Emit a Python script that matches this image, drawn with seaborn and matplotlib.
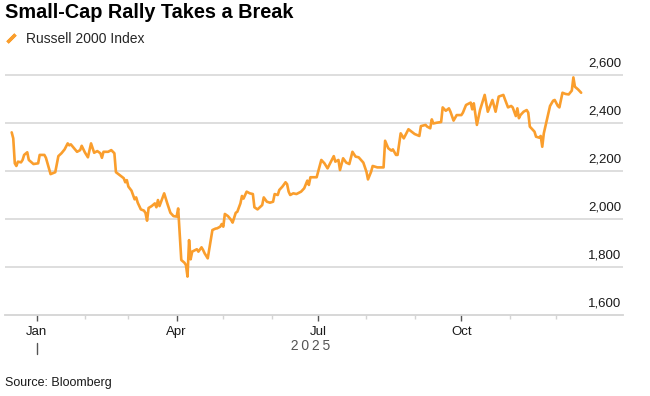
import matplotlib
matplotlib.use("Agg")
import matplotlib.pyplot as plt
import matplotlib.dates as mdates
from matplotlib.lines import Line2D
import pandas as pd
import seaborn as sns

# Russell 2000 daily closes (approximate)
dates = [
    "2024-12-16", "2024-12-17", "2024-12-18", "2024-12-19", "2024-12-20", "2024-12-22",
    "2024-12-23", "2024-12-24", "2024-12-26", "2024-12-27", "2024-12-30",
    "2025-01-02", "2025-01-03", "2025-01-06", "2025-01-07", "2025-01-08", "2025-01-10",
    "2025-01-13", "2025-01-15", "2025-01-17", "2025-01-19", "2025-01-21", "2025-01-22",
    "2025-01-23", "2025-01-27", "2025-01-29", "2025-01-30",
    "2025-02-01", "2025-02-03", "2025-02-05", "2025-02-07", "2025-02-09", "2025-02-11",
    "2025-02-12", "2025-02-13", "2025-02-16", "2025-02-18", "2025-02-20", "2025-02-21",
    "2025-02-24", "2025-02-26", "2025-02-27", "2025-02-28",
    "2025-03-01", "2025-03-03", "2025-03-05", "2025-03-06", "2025-03-07", "2025-03-09",
    "2025-03-11", "2025-03-12", "2025-03-13", "2025-03-14", "2025-03-16", "2025-03-18",
    "2025-03-19", "2025-03-20", "2025-03-21", "2025-03-24", "2025-03-26", "2025-03-28",
    "2025-03-30",
    "2025-04-01", "2025-04-02", "2025-04-04", "2025-04-06", "2025-04-07", "2025-04-08",
    "2025-04-09", "2025-04-10", "2025-04-11", "2025-04-14", "2025-04-15", "2025-04-17",
    "2025-04-18", "2025-04-19", "2025-04-21", "2025-04-24", "2025-04-26", "2025-04-27",
    "2025-04-29", "2025-04-30",
    "2025-05-01", "2025-05-02", "2025-05-04", "2025-05-06", "2025-05-07", "2025-05-09",
    "2025-05-10", "2025-05-12", "2025-05-13", "2025-05-14", "2025-05-16", "2025-05-18",
    "2025-05-20", "2025-05-21", "2025-05-23", "2025-05-26", "2025-05-27", "2025-05-29",
    "2025-05-31",
    "2025-06-02", "2025-06-03", "2025-06-05", "2025-06-06", "2025-06-08", "2025-06-10",
    "2025-06-11", "2025-06-12", "2025-06-13", "2025-06-15", "2025-06-17", "2025-06-20",
    "2025-06-22", "2025-06-24", "2025-06-25", "2025-06-26", "2025-06-30",
    "2025-07-03", "2025-07-05", "2025-07-07", "2025-07-11", "2025-07-12", "2025-07-14",
    "2025-07-15", "2025-07-17", "2025-07-19", "2025-07-21", "2025-07-23", "2025-07-25",
    "2025-07-27", "2025-07-30",
    "2025-08-01", "2025-08-02", "2025-08-04", "2025-08-05", "2025-08-08", "2025-08-12",
    "2025-08-13", "2025-08-15", "2025-08-17", "2025-08-18", "2025-08-20", "2025-08-21",
    "2025-08-23", "2025-08-25", "2025-08-28", "2025-08-30",
    "2025-09-01", "2025-09-04", "2025-09-05", "2025-09-08", "2025-09-09", "2025-09-11",
    "2025-09-12", "2025-09-13", "2025-09-15", "2025-09-18", "2025-09-19", "2025-09-21",
    "2025-09-23", "2025-09-24", "2025-09-26", "2025-09-28",
    "2025-10-01", "2025-10-02", "2025-10-04", "2025-10-07", "2025-10-08", "2025-10-09",
    "2025-10-11", "2025-10-13", "2025-10-16", "2025-10-18", "2025-10-21", "2025-10-23",
    "2025-10-25", "2025-10-28", "2025-10-29", "2025-10-31",
    "2025-11-02", "2025-11-03", "2025-11-05", "2025-11-06", "2025-11-07", "2025-11-08",
    "2025-11-10", "2025-11-12", "2025-11-13", "2025-11-14", "2025-11-15", "2025-11-17",
    "2025-11-18", "2025-11-20", "2025-11-21", "2025-11-22", "2025-11-23", "2025-11-24",
    "2025-11-25", "2025-11-27", "2025-11-29", "2025-11-30",
    "2025-12-02", "2025-12-03", "2025-12-05", "2025-12-07", "2025-12-09", "2025-12-11",
    "2025-12-12", "2025-12-13", "2025-12-15", "2025-12-17",
]
values = [
    2361, 2336, 2232, 2221, 2239, 2236,
    2246, 2267, 2278, 2246, 2229,
    2232, 2267, 2267, 2255, 2232, 2187,
    2195, 2262, 2274, 2290, 2315, 2307,
    2311, 2280, 2287, 2305,
    2278, 2257, 2315, 2276, 2283, 2274,
    2255, 2280, 2280, 2287, 2274, 2195,
    2180, 2170, 2153, 2162,
    2135, 2118, 2082, 2090, 2068, 2040,
    2035, 2025, 1993, 2046, 2054, 2065,
    2049, 2079, 2054, 2107, 2065, 2026,
    2012,
    2010, 2044, 1829, 1818, 1808, 1760,
    1912, 1832, 1864, 1874, 1864, 1882,
    1871, 1857, 1836, 1954, 1960, 1961,
    1968, 1979,
    1968, 2021, 2012, 1996, 1985, 2026,
    2030, 2065, 2096, 2085, 2114, 2107,
    2104, 2049, 2040, 2058, 2090, 2072,
    2068,
    2072, 2104, 2100, 2121, 2135, 2153,
    2145, 2114, 2100, 2107, 2104, 2114,
    2128, 2160, 2142, 2174, 2174,
    2246, 2232, 2211, 2262, 2239, 2246,
    2204, 2253, 2235, 2229, 2280, 2260,
    2257, 2235,
    2197, 2165, 2197, 2221, 2215, 2215,
    2326, 2295, 2285, 2290, 2267, 2267,
    2357, 2336, 2374, 2364,
    2354, 2346, 2387, 2392, 2385, 2378,
    2415, 2398, 2401, 2404, 2465, 2451,
    2461, 2447, 2410, 2433,
    2433, 2443, 2475, 2485, 2457, 2482,
    2392, 2454, 2517, 2447, 2496, 2447,
    2510, 2517, 2499, 2465,
    2471, 2465, 2429, 2461, 2420, 2433,
    2447, 2454, 2443, 2385, 2378, 2364,
    2343, 2339, 2346, 2301, 2357, 2385,
    2412, 2471, 2493, 2496,
    2471, 2465, 2526, 2521, 2519, 2535,
    2590, 2551, 2540, 2526,
]

y_ticks = [1600, 1800, 2000, 2200, 2400, 2600]
major_months = ["2025-01-01", "2025-04-01", "2025-07-01", "2025-10-01"]
major_labels = ["Jan", "Apr", "Jul", "Oct"]
minor_months = ["2025-02-01", "2025-03-01", "2025-05-01", "2025-06-01",
                "2025-08-01", "2025-09-01", "2025-11-01", "2025-12-01"]

df = pd.DataFrame({"date": pd.to_datetime(dates), "value": values})

sns.set_style("white")
plt.rcParams["font.family"] = ["Liberation Sans", "DejaVu Sans"]

orange = "#FA9E2D"
grid_col = "#d4d4d4"

fig = plt.figure(figsize=(6.5, 3.96), dpi=100)
ax = fig.add_axes([5 / 650, 81 / 396, 617.7 / 650, 252 / 396])

sns.lineplot(data=df, x="date", y="value", ax=ax, color=orange, linewidth=1.9)

# axes range
start = pd.Timestamp("2025-01-01")
ax.set_xlim(start - pd.Timedelta(days=20.3), start + pd.Timedelta(days=376.7))
ax.set_ylim(1600, 2650)

# horizontal grid + labels sitting above the lines on the right
for v in y_ticks[1:]:
    ax.axhline(v, color=grid_col, linewidth=1.1, zorder=0)
for v in y_ticks:
    ax.annotate(f"{v:,}", xy=(1.0, v), xycoords=ax.get_yaxis_transform(),
                xytext=(-1, 6), textcoords="offset pixels",
                ha="right", va="bottom", fontsize=9.5, color="#1a1a1a")
ax.set_yticks([])

for s in ["top", "right", "left"]:
    ax.spines[s].set_visible(False)
ax.spines["bottom"].set_color(grid_col)
ax.spines["bottom"].set_linewidth(1.3)

ax.set_xticks(pd.to_datetime(major_months))
ax.set_xticklabels(major_labels, fontsize=9.5, color="#1a1a1a")
ax.set_xticks(pd.to_datetime(minor_months), minor=True)
ax.tick_params(axis="x", which="both", bottom=True, direction="out")
ax.tick_params(axis="x", which="major", length=4, width=1, color="#555555", pad=4)
ax.tick_params(axis="x", which="minor", length=3, width=1, color=grid_col)
ax.set_xlabel("")
ax.set_ylabel("")

# year separator and year label
trans = ax.get_xaxis_transform()
jan = mdates.date2num(pd.Timestamp(major_months[0]))
ax.add_line(Line2D([jan, jan], [-0.11, -0.155], transform=trans,
                   color="#555555", linewidth=1, clip_on=False))
mid = mdates.date2num(pd.Timestamp(major_months[0]) + (df["date"].iloc[-1] - pd.Timestamp(major_months[0])) / 2)
ax.text(mid, -0.125, "\u20092\u20090\u20092\u20095", transform=trans, ha="center", va="center",
        fontsize=10, color="#555555")

# title, legend, source
fig.text(5 / 650, 1 - 13 / 396, "Small-Cap Rally Takes a Break", fontsize=14.3,
         fontweight="bold", ha="left", va="center", color="#000000")
handle = Line2D([], [], linestyle="none", marker=(2, 2, -45), markersize=8,
                markeredgewidth=2.4, markeredgecolor=orange)
fig.legend([handle], ["Russell 2000 Index"], loc="center left",
           bbox_to_anchor=(0, 1 - 39 / 396), frameon=False, fontsize=10,
           handlelength=1.0, handletextpad=0.6, borderaxespad=0, borderpad=0.3)
fig.text(5 / 650, 1 - 383 / 396, "Source: Bloomberg", fontsize=9, ha="left",
         va="center", color="#1a1a1a")

fig.savefig("out.png", dpi=100)
